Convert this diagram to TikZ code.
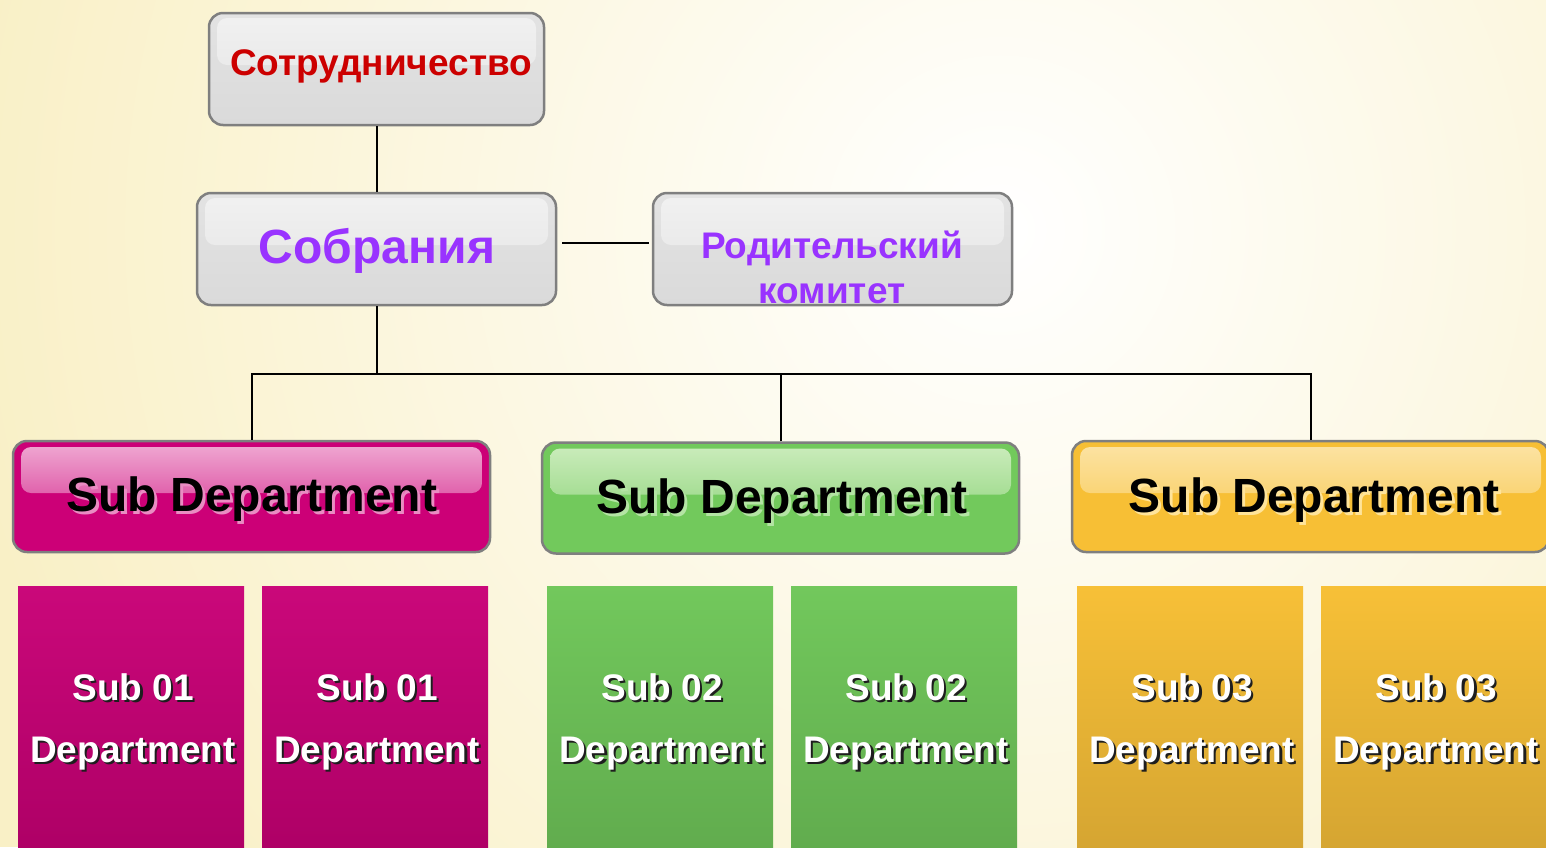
\documentclass[tikz,border=0pt]{standalone}
\usepackage{fontspec}
\setmainfont{Liberation Sans}
\usetikzlibrary{calc}
\definecolor{bgc}{HTML}{F9F0C6}
\definecolor{boxline}{HTML}{7F7F7F}
\definecolor{grayT}{HTML}{E3E3E3}
\definecolor{grayB}{HTML}{DADADA}
\definecolor{glossGT}{HTML}{F1F1F1}
\definecolor{glossGB}{HTML}{E3E3E3}
\definecolor{redtxt}{HTML}{CC0000}
\definecolor{purptxt}{HTML}{9933FF}
\definecolor{pinkC}{HTML}{CC0077}
\definecolor{greenC}{HTML}{72C95C}
\definecolor{orangeC}{HTML}{F7BF35}
\definecolor{pinkG}{HTML}{F0ACD4}
\definecolor{greenG}{HTML}{CDEDBE}
\definecolor{orangeG}{HTML}{FCE4A6}
\definecolor{pinkS}{HTML}{E98CC2}
\definecolor{greenS}{HTML}{B4E4A4}
\definecolor{orangeS}{HTML}{FFE49A}
\definecolor{pinkT}{HTML}{CA087A}
\definecolor{pinkB}{HTML}{AE0066}
\definecolor{greenT}{HTML}{72C85C}
\definecolor{greenB}{HTML}{61AC4E}
\definecolor{orangeT}{HTML}{F7C037}
\definecolor{orangeB}{HTML}{D5A532}
\definecolor{darksh}{HTML}{1E1E1E}
\newcommand\shtxt[4]{\makebox[0pt][l]{\kern#2\raisebox{-#2}{\color{#1}#4}}{\color{#3}#4}}
\begin{document}
\begin{tikzpicture}[x=1pt,y=-1pt,
  graybox/.style={draw=boxline, line width=2.5pt, rounded corners=14pt,
    top color=grayT, bottom color=grayB, inner sep=0pt,
    minimum width=#1, minimum height=112pt,
    path picture={\shade[rounded corners=10pt, top color=glossGT, bottom color=glossGB]
      ([xshift=8pt,yshift=-5pt]path picture bounding box.north west) rectangle
      ([xshift=-8pt,yshift=-52pt]path picture bounding box.north east);}},
  subbox/.style 2 args={draw=boxline, line width=2.5pt, rounded corners=14pt,
    fill=#1, inner sep=0pt, minimum width=477pt, minimum height=111pt,
    path picture={\shade[rounded corners=10pt, top color=#2, bottom color=#1!94!white]
      ([xshift=8pt,yshift=-6pt]path picture bounding box.north west) rectangle
      ([xshift=-8pt,yshift=-52pt]path picture bounding box.north east);}},
  leafbox/.style 2 args={top color=#1, bottom color=#2, inner sep=0pt,
    minimum width=226pt, minimum height=264pt},
  txt/.style={inner sep=0pt, anchor=base},
  conn/.style={draw=black, line width=2pt}
]
\useasboundingbox (0,0) rectangle (1546,847);
\clip (0,0) rectangle (1546,847);
% background
\fill[bgc] (0,0) rectangle (1546,847);
\shade[inner color=white, outer color=bgc] (1000,230) circle[radius=1050pt];

% top boxes
\node[graybox=335pt] (coop) at (376.5,69) {};
\node[graybox=359pt] (sob) at (376.5,249) {};
\node[graybox=359pt] (rod) at (832.5,249) {};

\node[txt, font={\fontsize{37}{44}\selectfont\bfseries}, text=redtxt] (coopT) at (381,75) {Сотрудничество};
\node[txt, font={\fontsize{48}{56}\selectfont\bfseries}, text=purptxt] (sobT) at (377,263) {Собрания};
\node[txt, font={\fontsize{37}{44}\selectfont\bfseries}, text=purptxt] (rodT1) at (832,258) {Родительский};
\node[txt, font={\fontsize{37}{44}\selectfont\bfseries}, text=purptxt] (rodT2) at (832,303) {комитет};

% sub departments
\node[subbox={pinkC}{pinkG}] (sd1) at (251.5,496.5) {};
\node[subbox={greenC}{greenG}] (sd2) at (780.5,498) {};
\node[subbox={orangeC}{orangeG}] (sd3) at (1310.5,496.5) {};

\node[txt, font={\fontsize{48}{56}\selectfont\bfseries}] (sd1T) at (252,511) {\shtxt{pinkS}{3pt}{black}{Sub Department}};
\node[txt, font={\fontsize{48}{56}\selectfont\bfseries}] (sd2T) at (782,513) {\shtxt{greenS}{3pt}{black}{Sub Department}};
\node[txt, font={\fontsize{48}{56}\selectfont\bfseries}] (sd3T) at (1314,512) {\shtxt{orangeS}{3pt}{black}{Sub Department}};

% connectors
\coordinate (bus) at ($(sob.south)+(0,68)$);
\draw[conn] (coop.south) -- (sob.north);
\draw[conn, shorten <=5pt, shorten >=3pt] ([yshift=6pt]sob.east) -- ([yshift=6pt]rod.west);
\draw[conn] (sob.south) -- (bus);
\draw[conn] (sd1.north) |- (bus) -| (sd3.north);
\draw[conn] (sd2.north) -- (sd2.north |- bus);

% leaf boxes
\foreach \x/\n/\ct/\cb [count=\i] in {131/01/pinkT/pinkB, 375/01/pinkT/pinkB,
    660/02/greenT/greenB, 904/02/greenT/greenB, 1190/03/orangeT/orangeB, 1434/03/orangeT/orangeB}{
  \node[leafbox={\ct}{\cb}] (leaf\i) at (\x,718) {};
  \node[txt, font={\fontsize{37}{44}\selectfont\bfseries}] (leafA\i) at (\x+2,700) {\shtxt{darksh}{2.5pt}{white}{Sub \n}};
  \node[txt, font={\fontsize{37}{44}\selectfont\bfseries}] (leafB\i) at (\x+2,762) {\shtxt{darksh}{2.5pt}{white}{Department}};
}
\end{tikzpicture}
\end{document}
